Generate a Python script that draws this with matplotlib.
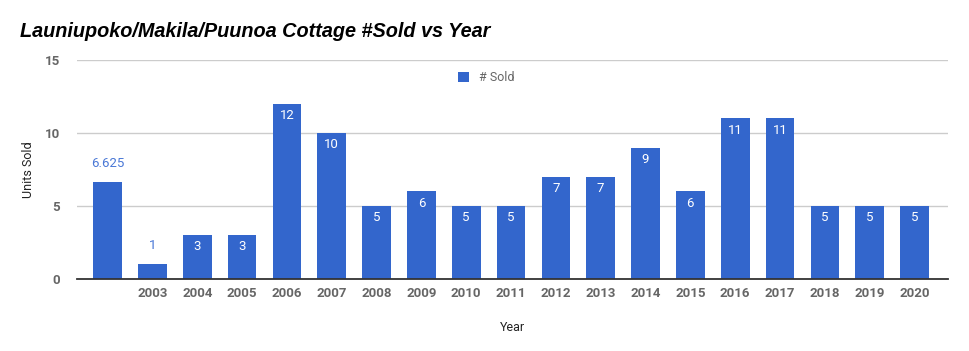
import matplotlib.pyplot as plt
import numpy as np

years = ['', '2003', '2004', '2005', '2006', '2007', '2008', '2009', '2010', '2011',
         '2012', '2013', '2014', '2015', '2016', '2017', '2018', '2019', '2020']
sold = [6.625, 1, 3, 3, 12, 10, 5, 6, 5, 5, 7, 7, 9, 6, 11, 11, 5, 5, 5]
value_labels = ['6.625', '1', '3', '3', '12', '10', '5', '6', '5', '5',
                '7', '7', '9', '6', '11', '11', '5', '5', '5']

blue = '#3366CC'
grey = '#666666'

plt.rcParams['font.family'] = 'Roboto'

fig = plt.figure(figsize=(9.7, 3.51), dpi=100)
ax = fig.add_axes([0.079, 0.205, 0.898, 0.624])

x = np.arange(len(years))
ax.bar(x, sold, width=0.64, color=blue, zorder=3, label='# Sold')

# first bar (average) and tiny bar get their label above in blue
for i, (xi, v, t) in enumerate(zip(x, sold, value_labels)):
    if v >= 2 and i > 0:
        ax.text(xi, v - 0.35, t, ha='center', va='top', color='white', fontsize=9.5, zorder=4)
    else:
        ax.text(xi, v + 0.85, t, ha='center', va='bottom', color='#4a78d6', fontsize=9.5, zorder=4)

ax.set_xlim(-0.69, 18.74)
ax.set_ylim(0, 15)
ax.set_yticks([0, 5, 10, 15])
ax.set_xticks(x)
ax.set_xticklabels(years)
for lab in ax.get_xticklabels() + ax.get_yticklabels():
    lab.set_fontweight('bold')
    lab.set_color(grey)
    lab.set_fontsize(9.5)
ax.tick_params(length=0, pad=6)
ax.tick_params(axis='y', pad=12)

ax.yaxis.grid(True, color='#cccccc', linewidth=1, zorder=0)
for s in ['top', 'right', 'left']:
    ax.spines[s].set_visible(False)
ax.spines['bottom'].set_color('#333333')
ax.spines['bottom'].set_linewidth(1.3)
ax.spines['bottom'].set_zorder(5)

ax.set_ylabel('Units Sold', fontsize=9, color='#222222')
ax.yaxis.set_label_coords(-0.048, 0.5)
ax.set_xlabel('Year', fontsize=9, color='#222222', labelpad=15)

ax.legend(loc='upper center', bbox_to_anchor=(0.47, 1.0), frameon=False,
          fontsize=9, handlelength=0.9, handleheight=0.9, labelcolor=grey)

fig.text(0.021, 0.895, 'Launiupoko/Makila/Puunoa Cottage #Sold vs Year',
         fontfamily='Liberation Sans', fontweight='bold', fontstyle='italic',
         fontsize=14.3, color='black')

fig.savefig('out.png', dpi=100)
